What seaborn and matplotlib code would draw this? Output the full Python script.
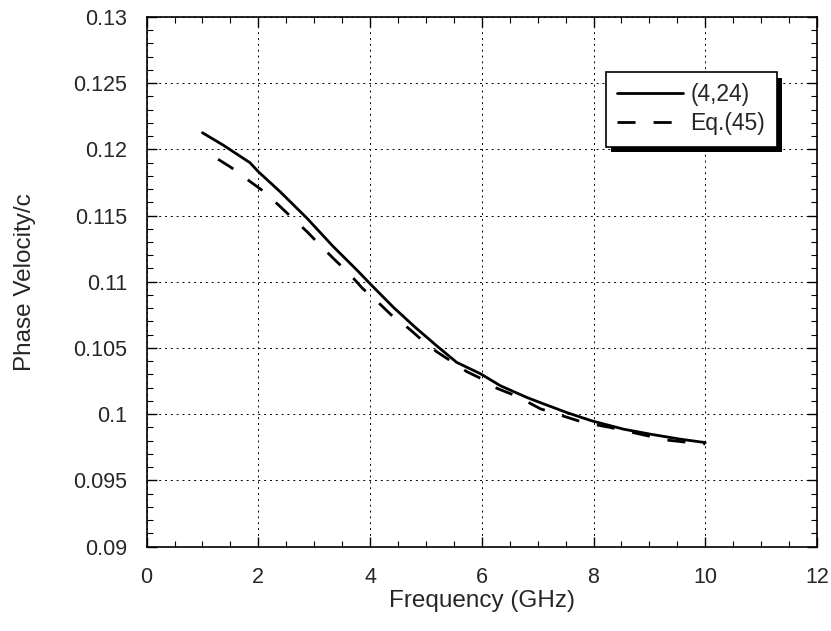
import matplotlib
matplotlib.use("Agg")
import matplotlib.pyplot as plt
import matplotlib.patheffects as pe
import numpy as np
import pandas as pd
import seaborn as sns
from matplotlib.ticker import MultipleLocator

sns.set_style("ticks")
plt.rcParams["font.family"] = ["Liberation Sans", "DejaVu Sans"]

# (4,24) curve
freq_sim = [1.0, 1.37, 1.85, 2.0, 2.39, 2.87, 3.34, 3.76, 4.0, 4.42, 4.81, 5.19, 5.55,
            5.98, 6.33, 6.80, 7.04, 7.52, 7.97, 8.54, 9.01, 9.55, 10.0]
vel_sim = [0.12125, 0.12032, 0.11899, 0.11831, 0.1168, 0.1148, 0.11266, 0.1109, 0.10985,
           0.10806, 0.10655, 0.10517, 0.10391, 0.10304, 0.10215, 0.10127, 0.10088,
           0.10012, 0.09949, 0.09886, 0.09849, 0.09811, 0.09785]
# Eq.(45) curve
freq_eq = [1.28, 1.52, 1.80, 2.06, 2.36, 2.60, 2.87, 3.10, 3.37, 3.63, 3.86, 4.10, 4.40,
           4.69, 4.95, 5.19, 5.49, 5.73, 6.0, 6.27, 6.54, 6.81, 7.05, 7.82, 8.30, 8.83,
           9.31, 9.85, 10.0]
vel_eq = [0.11925, 0.11861, 0.11773, 0.11693, 0.1158, 0.11484, 0.11379, 0.11278, 0.11165,
          0.1106, 0.10952, 0.10862, 0.10741, 0.10648, 0.10552, 0.10472, 0.10389, 0.10321,
          0.10266, 0.10195, 0.1015, 0.10094, 0.1004, 0.09937, 0.09899, 0.09849, 0.09804,
          0.09779, 0.09775]

y_ticklabels = ["0.09", "0.095", "0.1", "0.105", "0.11", "0.115", "0.12", "0.125", "0.13"]

df = pd.concat([
    pd.DataFrame({"freq": freq_sim, "vel": vel_sim, "curve": "(4,24)"}),
    pd.DataFrame({"freq": freq_eq, "vel": vel_eq, "curve": "Eq.(45)"}),
])

fig = plt.figure(figsize=(8.31, 6.31), dpi=100)
ax = fig.add_axes([0.1764, 0.1339, 0.8067, 0.8393])

sns.lineplot(
    data=df, x="freq", y="vel", style="curve",
    dashes={"(4,24)": "", "Eq.(45)": (6.5, 6.5)},
    color="black", linewidth=2, ax=ax, sort=False,
)

ax.set_xlim(0, 12)
ax.set_ylim(0.09, 0.13)
ax.set_xticks(np.arange(0, 13, 2))
ax.set_yticks(np.linspace(0.09, 0.13, 9))
ax.set_yticklabels(y_ticklabels)
ax.xaxis.set_minor_locator(MultipleLocator(0.5))
ax.yaxis.set_minor_locator(MultipleLocator(0.001))
ax.tick_params(which="both", direction="in", top=True, right=True, labelsize=15.5, color="black")
ax.tick_params(which="major", length=7, width=1)
ax.tick_params(which="minor", length=4, width=0.8)
ax.tick_params(axis="x", which="major", pad=15)
ax.tick_params(axis="y", which="major", pad=14)
ax.grid(True, which="major", color="black", linestyle=(0, (2, 4)), linewidth=0.7)
for s in ax.spines.values():
    s.set_color("black")
    s.set_linewidth(1.2)

ax.set_xlabel("Frequency (GHz)", fontsize=17.5, labelpad=1)
ax.set_ylabel("Phase Velocity/c", fontsize=17.5, labelpad=27)

leg = ax.legend(
    title=None, loc="upper right", bbox_to_anchor=(0.940, 0.896), borderaxespad=0,
    fontsize=16.5, frameon=True, fancybox=False, edgecolor="black", framealpha=1,
    handlelength=2.85, handletextpad=0.35, borderpad=0.5, labelspacing=0.25,
)
frame = leg.get_frame()
frame.set_linewidth(1.2)
frame.set_path_effects([
    pe.SimplePatchShadow(offset=(4, -4), shadow_rgbFace="black", alpha=1),
    pe.Normal(),
])

fig.savefig("out.png", dpi=100)
